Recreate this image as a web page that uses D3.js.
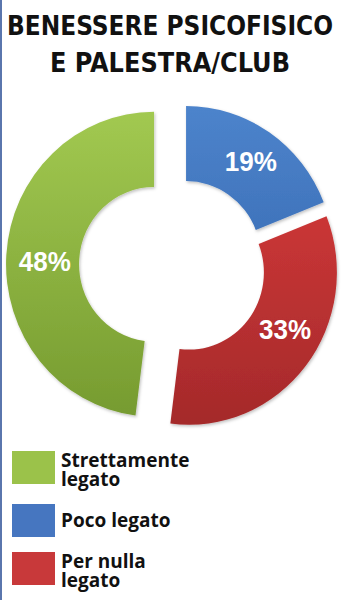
<!DOCTYPE html>
<html>
<head>
<meta charset="utf-8">
<script src="https://cdn.jsdelivr.net/npm/d3@7"></script>
<style>
    html, body { margin: 0; padding: 0; background: #fff; }
    svg { display: block; }
</style>
</head>
<body>
<div class="container"></div>
<script>
const width = 343,
    height = 600;

const titleLines = ['BENESSERE PSICOFISICO', 'E PALESTRA/CLUB'];
const categories = ['Strettamente legato', 'Poco legato', 'Per nulla legato'];
const values = [48, 19, 33];
const legendLines = [['Strettamente', 'legato'], ['Poco legato'], ['Per nulla', 'legato']];
const colors = ['#9bc24a', '#4676c0', '#c8393a'];
const gradTop = ['#a2c951', '#4d84cc', '#dc3c3c'];
const gradBottom = ['#759a2f', '#2c5ca4', '#a3292a'];
const explode = [27, 9, 10];

const svg = d3.select('.container')
    .append('svg')
    .attr('width', width)
    .attr('height', height);

// left border
svg.append('rect')
    .attr('x', 0).attr('y', 0)
    .attr('width', 2).attr('height', height)
    .attr('fill', '#5a76ad');

// title
svg.selectAll('.title')
    .data(titleLines)
    .enter()
    .append('text')
    .attr('class', 'title')
    .attr('x', 170)
    .attr('y', (d, i) => i ? 72 : 35)
    .attr('text-anchor', 'middle')
    .attr('textLength', (d, i) => i ? 240 : 326)
    .attr('lengthAdjust', 'spacingAndGlyphs')
    .style('font-family', '"DejaVu Sans Condensed", "Liberation Sans Narrow", sans-serif')
    .style('font-weight', 'bold')
    .style('font-size', '27px')
    .attr('fill', '#111')
    .text(d => d);

// gradients
const defs = svg.append('defs');
values.forEach((v, i) => {
    const g = defs.append('linearGradient')
        .attr('id', 'grad' + i)
        .attr('gradientUnits', 'userSpaceOnUse')
        .attr('x1', 0).attr('x2', 0)
        .attr('y1', -150).attr('y2', 155);
    g.append('stop').attr('offset', '0%').attr('stop-color', gradTop[i]);
    g.append('stop').attr('offset', '100%').attr('stop-color', gradBottom[i]);
});

const shadow = defs.append('filter')
    .attr('id', 'shadow')
    .attr('x', '-10%').attr('y', '-10%')
    .attr('width', '120%').attr('height', '120%');
shadow.append('feDropShadow')
    .attr('dx', 1).attr('dy', 1.5)
    .attr('stdDeviation', 1.5)
    .attr('flood-color', '#000')
    .attr('flood-opacity', 0.25);

// donut
const total = d3.sum(values);
const start = -values[0] / total * 2 * Math.PI;
const pie = d3.pie()
    .sort(null)
    .value(d => d)
    .startAngle(start)
    .endAngle(start + 2 * Math.PI);

const innerR = 75, outerR = 148;
const arc = d3.arc().innerRadius(innerR).outerRadius(outerR);
const labelArc = d3.arc().innerRadius((innerR + outerR) / 2).outerRadius((innerR + outerR) / 2);

const chart = svg.append('g')
    .attr('transform', 'translate(181, 266) scale(1, 1.03)');

const slices = chart.selectAll('.slice')
    .data(pie(values))
    .enter()
    .append('g')
    .attr('class', 'slice')
    .attr('transform', (d, i) => {
        const a = (d.startAngle + d.endAngle) / 2;
        return `translate(${Math.sin(a) * explode[i]}, ${-Math.cos(a) * explode[i]})`;
    });

slices.append('path')
    .attr('d', arc)
    .attr('fill', (d, i) => `url(#grad${i})`)
    .attr('filter', 'url(#shadow)');

// labels sit a bit off the centroid in the original
const labelShift = [[2, 4], [2, -2], [8, -13]];
slices.append('text')
    .attr('transform', (d, i) => {
        const c = labelArc.centroid(d);
        return `translate(${c[0] + labelShift[i][0]}, ${c[1] + labelShift[i][1]})`;
    })
    .attr('text-anchor', 'middle')
    .attr('dy', '0.36em')
    .style('font-family', '"Liberation Sans", Arial, sans-serif')
    .style('font-weight', 'bold')
    .style('font-size', '26px')
    .attr('fill', '#fff')
    .text(d => d.value + '%');

// legend
const legendY = [451, 504, 552];
const legend = svg.append('g').attr('id', 'legend');

const legendItem = legend.selectAll('.legend-item')
    .data(categories)
    .enter()
    .append('g')
    .attr('class', 'legend-item')
    .attr('transform', (d, i) => `translate(12, ${legendY[i]})`);

legendItem.append('rect')
    .attr('width', 43)
    .attr('height', 33)
    .attr('fill', (d, i) => colors[i]);

legendItem.append('text')
    .style('font-family', '"Open Sans", sans-serif')
    .style('font-weight', 'bold')
    .style('font-size', '19px')
    .attr('fill', '#111')
    .each(function (d, i) {
        const lines = legendLines[i];
        const t = d3.select(this);
        const first = lines.length > 1 ? 16 : 23;
        lines.forEach((l, j) => {
            t.append('tspan')
                .attr('x', 49)
                .attr('y', first + j * 19)
                .text(l);
        });
    });
</script>
</body>
</html>
